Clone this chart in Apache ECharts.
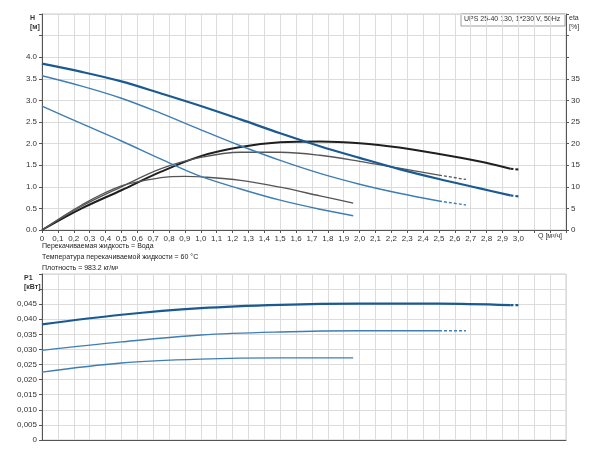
<!DOCTYPE html>
<html><head><meta charset="utf-8">
<script src="https://cdn.jsdelivr.net/npm/echarts@6/dist/echarts.min.js"></script>
<style>html,body{margin:0;padding:0;background:#fff}#c{width:600px;height:450px}</style>
</head><body><div id="c"></div>
<script>
// H curves [Q, H]
const h3 = [[0,3.85],[0.25,3.66],[0.5,3.44],[0.75,3.16],[1.0,2.87],[1.25,2.56],[1.5,2.24],[1.75,1.94],[2.0,1.67],[2.25,1.41],[2.5,1.18],[2.75,0.97],[2.95,0.8]];
const h3d = [[2.95,0.8],[3.0,0.78]];
const h2 = [[0,3.57],[0.25,3.33],[0.5,3.05],[0.75,2.7],[1.0,2.32],[1.25,1.95],[1.5,1.61],[1.75,1.31],[2.0,1.06],[2.25,0.85],[2.5,0.67]];
const h2d = [[2.5,0.67],[2.67,0.58]];
const h1 = [[0,2.87],[0.25,2.46],[0.5,2.06],[0.75,1.64],[1.0,1.24],[1.25,0.95],[1.5,0.69],[1.75,0.48],[1.96,0.33]];
// efficiency curves [Q, %]
const e3 = [[0,0],[0.25,5],[0.5,9.2],[0.75,13.5],[1.0,17.1],[1.25,19.2],[1.5,20.3],[1.75,20.5],[2.0,20.1],[2.25,19.1],[2.5,17.6],[2.75,15.9],[2.95,14.2]];
const e3d = [[2.95,14.2],[3.0,14]];
const e2 = [[0,0],[0.25,5.5],[0.5,10],[0.75,14.2],[1.0,16.8],[1.25,18],[1.5,18],[1.75,17.3],[2.0,15.9],[2.25,14.3],[2.5,12.7]];
const e2d = [[2.5,12.7],[2.67,11.7]];
const e1 = [[0,0],[0.25,5.8],[0.5,10.2],[0.75,12.1],[0.9,12.4],[1.0,12.3],[1.25,11.5],[1.5,9.9],[1.75,7.9],[1.96,6.2]];
// power curves [Q, kW]
const p3 = [[0,0.0383],[0.5,0.0415],[1.0,0.0437],[1.5,0.0448],[2.0,0.0452],[2.5,0.0452],[2.95,0.0447]];
const p3d = [[2.95,0.0447],[3.0,0.0447]];
const p2 = [[0,0.0297],[0.5,0.0325],[1.0,0.0348],[1.5,0.0358],[2.0,0.0362],[2.5,0.0362]];
const p2d = [[2.5,0.0362],[2.67,0.0362]];
const p1 = [[0,0.0225],[0.5,0.0255],[1.0,0.0268],[1.5,0.0272],[1.96,0.0272]];

const FONT = 'Liberation Sans';
const gridLine = {show:true, lineStyle:{color:'#dcdcdc', width:1}};
const axLine = {show:true, lineStyle:{color:'#555'}};
const lab = {fontFamily:FONT, fontSize:8, color:'#333'};
function s(data, x, y, color, width, dashed, smooth=0.35){
  return {type:'line', data, xAxisIndex:x, yAxisIndex:y, showSymbol:false, smooth,
    lineStyle:{color, width, type: dashed?[3,2]:'solid'}, silent:true, animation:false};
}
const c1='#1a5a92', c2='#3f7eb3', cb='#1f1f1f', cg='#555';
const option = {
  animation:false,
  grid:[{left:42,right:34,top:14,bottom:220,show:true,borderColor:'#ccc',borderWidth:1},
        {left:42,right:34,top:274,bottom:10,show:true,borderColor:'#ccc',borderWidth:1}],
  xAxis:[
    {type:'value',gridIndex:0,min:0,max:3.3,interval:0.1,axisLine:axLine,axisTick:{show:true,length:3,lineStyle:{color:'#555'}},
     splitLine:gridLine, axisLabel:{...lab, margin:5, formatter:v=>{v=Math.round(v*10)/10; if(v>3.0) return ''; if(v===0) return '0'; return v.toFixed(1).replace('.',',');}}},
    {type:'value',gridIndex:1,min:0,max:3.3,interval:0.1,axisLine:axLine,axisTick:{show:false},splitLine:gridLine,axisLabel:{show:false}}
  ],
  yAxis:[
    {type:'value',gridIndex:0,min:0,max:5,interval:0.5,axisLine:axLine,axisTick:{show:true,length:3},splitLine:gridLine,
     axisLabel:{...lab,margin:5,formatter:v=>v>4.01?'':v.toFixed(1)}},
    {type:'value',gridIndex:0,min:0,max:50,interval:5,position:'right',axisLine:axLine,axisTick:{show:true,length:3,lineStyle:{color:'#555'}},splitLine:{show:false},
     axisLabel:{...lab,margin:5,formatter:v=>v>35.1?'':String(v)}},
    {type:'value',gridIndex:1,min:0,max:0.055,interval:0.005,axisLine:axLine,axisTick:{show:true,length:3},splitLine:gridLine,
     axisLabel:{...lab,margin:5,formatter:v=>{if(v>0.0451) return ''; if(v===0) return '0'; return v.toFixed(3).replace('.',',');}}}
  ],
  series:[
    s(e3,0,1,cb,2,false), s(e3d,0,1,cb,2,true,false),
    s(e2,0,1,cg,1.3,false), s(e2d,0,1,cg,1.3,true,false),
    s(e1,0,1,cg,1.3,false),
    s(h3,0,0,c1,2.2,false), s(h3d,0,0,c1,2.2,true,false),
    s(h2,0,0,c2,1.4,false), s(h2d,0,0,c2,1.4,true,false),
    s(h1,0,0,c2,1.4,false),
    s(p3,1,2,c1,2.2,false), s(p3d,1,2,c1,2.2,true,false),
    s(p2,1,2,c2,1.4,false), s(p2d,1,2,c2,1.4,true,false),
    s(p1,1,2,c2,1.4,false)
  ],
  graphic:[
    {type:'text',left:30,top:14,style:{text:'H\n[м]',font:'bold 7px '+FONT,fill:'#333',lineHeight:9}},
    {type:'text',left:569,top:14,style:{text:'eta\n[%]',font:'7px '+FONT,fill:'#333',lineHeight:9}},
    {type:'text',left:538,top:233,style:{text:'Q [м³/ч]',font:'7px '+FONT,fill:'#333'}},
    {type:'text',left:42,top:241,style:{text:'Перекачиваемая жидкость = Вода\nТемпература перекачиваемой жидкости = 60 °C\nПлотность = 983.2 кг/м³',font:'7px '+FONT,fill:'#222',lineHeight:11}},
    {type:'text',left:24,top:274,style:{text:'P1\n[кВт]',font:'bold 7px '+FONT,fill:'#333',lineHeight:9}},
    {type:'rect',shape:{x:461,y:14,width:104,height:12},style:{fill:'#fff',stroke:'#888',lineWidth:0.8}},
    {type:'text',left:464,top:16,style:{text:'UPS 25-40 130, 1*230 V, 50Hz',font:'7px '+FONT,fill:'#333'}}
  ]
};
echarts.init(document.getElementById('c'),null,{renderer:'canvas'}).setOption(option);
</script></body></html>
